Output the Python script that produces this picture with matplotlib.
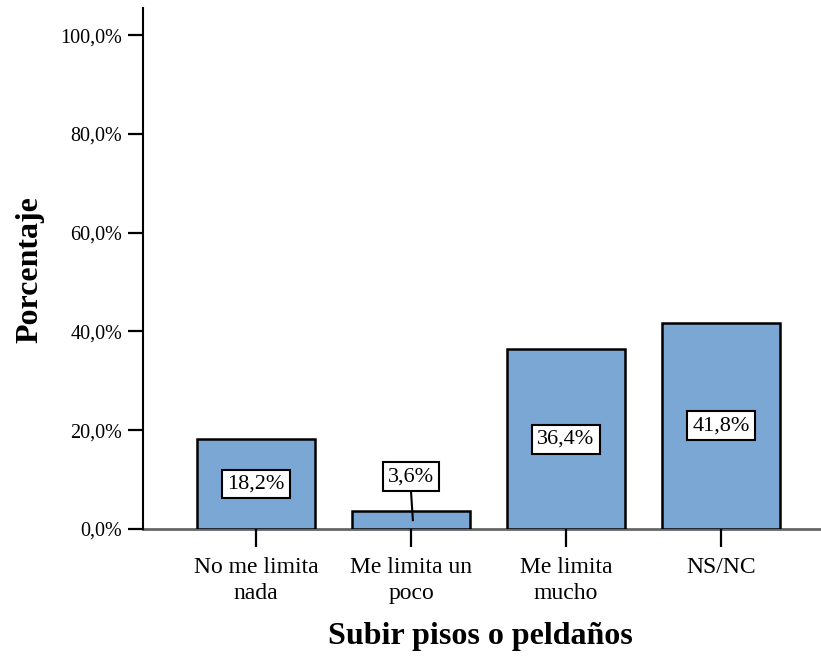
import matplotlib
matplotlib.use("Agg")
import matplotlib.pyplot as plt
from matplotlib.ticker import FuncFormatter

categories = ["No me limita\nnada", "Me limita un\npoco", "Me limita\nmucho", "NS/NC"]
values = [18.2, 3.6, 36.4, 41.8]
value_labels = ["18,2%", "3,6%", "36,4%", "41,8%"]
yticks = [0, 20, 40, 60, 80, 100]
xlabel = "Subir pisos o peldaños"
ylabel = "Porcentaje"

plt.rcParams['font.family'] = ['Liberation Serif', 'DejaVu Serif']

fig = plt.figure(figsize=(8.21, 6.57), dpi=100)
ax = fig.add_axes([143/821, 1-529/657, 1-143/821, (529-8)/657])

x = list(range(len(categories)))
ax.bar(x, values, width=0.76, color="#7BA7D4", edgecolor="black", linewidth=1.8, zorder=2)

ax.set_xlim(-0.729, 3.645)
ax.set_ylim(0, 105.5)

box = dict(boxstyle="square,pad=0.22", fc="white", ec="black", lw=1.5)
for xi, v, lab in zip(x, values, value_labels):
    if v < 8:
        ty = v + 7.0
        ax.plot([xi, xi + 0.012], [ty - 3.0, v / 2], color="black", lw=1.5, zorder=3)
        ax.text(xi, ty, lab, ha="center", va="center", fontsize=16, bbox=box, zorder=4)
    else:
        ax.text(xi, v / 2, lab, ha="center", va="center", fontsize=16, bbox=box, zorder=4)

ax.set_yticks(yticks)
ax.yaxis.set_major_formatter(FuncFormatter(lambda v, p: f"{v:.1f}".replace(".", ",") + "%"))
ax.set_xticks(x)
ax.set_xticklabels(categories, fontsize=17, linespacing=1.35)
ax.tick_params(axis="y", labelsize=14.5, length=11, width=1.6, direction="out", pad=4)
ax.tick_params(axis="x", length=13, width=1.6, direction="out", pad=7)

for s in ["top", "right"]:
    ax.spines[s].set_visible(False)
ax.spines["left"].set_linewidth(1.5)
ax.spines["bottom"].set_linewidth(2)
ax.spines["bottom"].set_color("#666666")
ax.spines["bottom"].set_zorder(1)

ax.set_xlabel(xlabel, fontsize=23, fontweight="bold")
ax.set_ylabel(ylabel, fontsize=23, fontweight="bold")
ax.xaxis.set_label_coords((480 - 143) / (821 - 143), -(622 - 529) / (529 - 8))
ax.yaxis.set_label_coords(-(143 - 44) / (821 - 143), (529 - 270) / (529 - 8))

fig.savefig("out.png", dpi=100)
